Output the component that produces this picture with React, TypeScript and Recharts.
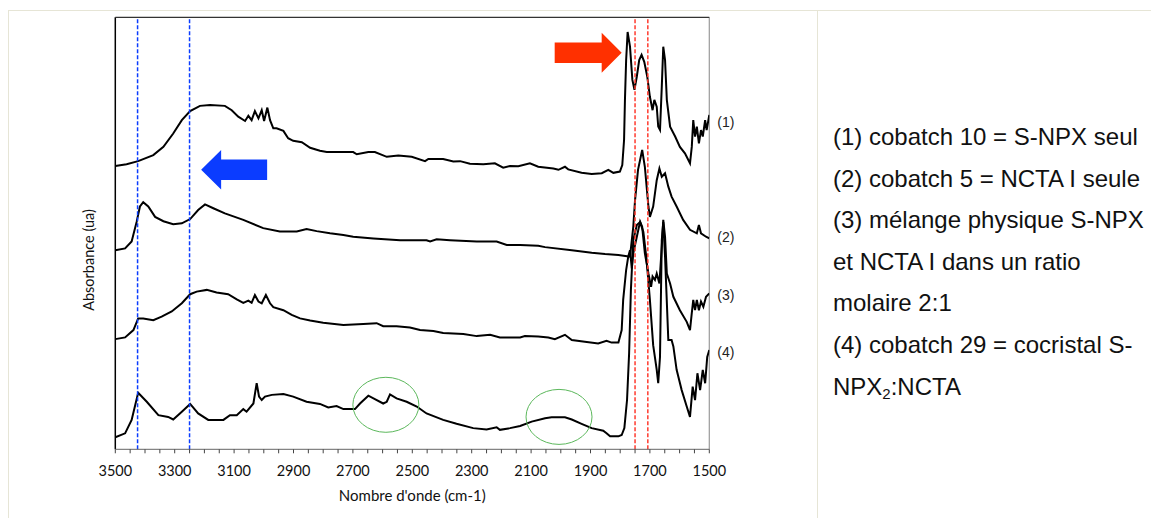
import React from 'react';
import { LineChart, Line, XAxis, YAxis, ReferenceLine, ReferenceDot } from 'recharts';

// wavenumber grid for the axis (every 50 cm-1), labels every 200
const waveTicks = Array.from({ length: 41 }, (_, i) => 3500 - i * 50);
const waveLabels = [3500, 3300, 3100, 2900, 2700, 2500, 2300, 2100, 1900, 1700, 1500];

// (1) cobatch 10 = S-NPX seul
const s1Wave = [3500, 3462, 3423, 3372, 3338, 3305, 3276, 3248, 3215, 3181, 3131, 3108, 3086, 3063, 3052, 3041, 3030, 3018, 3007, 2999, 2988, 2979, 2968, 2957, 2934, 2918, 2901, 2872, 2844, 2811, 2788, 2699, 2687, 2648, 2626, 2586, 2547, 2502, 2457, 2446, 2396, 2362, 2339, 2306, 2261, 2222, 2194, 2171, 2143, 2104, 2076, 2025, 2008, 1986, 1975, 1930, 1896, 1862, 1840, 1823, 1801, 1793, 1787, 1784, 1780, 1775, 1767, 1759, 1752, 1744, 1736, 1728, 1719, 1709, 1700, 1691, 1685, 1677, 1672, 1666, 1660, 1655, 1649, 1643, 1632, 1615, 1599, 1582, 1565, 1559, 1554, 1548, 1542, 1535, 1528, 1522, 1514, 1509, 1500];
const s1Abs = [65.6, 66.0, 66.7, 68.1, 70.0, 73.1, 76.2, 78.3, 79.5, 79.7, 79.5, 78.5, 77.0, 76.0, 77.2, 76.2, 78.3, 76.6, 78.5, 76.0, 79.1, 76.2, 74.3, 74.3, 73.7, 72.0, 71.4, 71.1, 69.8, 69.1, 68.8, 68.8, 68.3, 68.8, 68.8, 67.7, 68.0, 67.7, 66.7, 67.2, 67.2, 66.6, 66.7, 66.1, 66.0, 66.2, 65.2, 65.6, 65.5, 66.2, 65.4, 65.0, 64.7, 65.4, 64.8, 64.0, 63.7, 63.9, 64.7, 64.0, 64.3, 65.8, 71.6, 80.9, 90.1, 96.6, 93.2, 85.5, 83.2, 86.3, 90.1, 91.3, 89.7, 86.3, 81.6, 78.5, 80.9, 79.3, 74.7, 73.9, 83.9, 93.2, 90.1, 80.9, 74.7, 72.4, 70.0, 68.5, 66.2, 70.0, 76.2, 72.4, 74.7, 70.8, 73.9, 72.4, 76.2, 73.9, 77.4];

// (2) cobatch 5 = NCTA I seule
const s2Wave = [3500, 3467, 3445, 3428, 3417, 3406, 3389, 3366, 3338, 3305, 3276, 3248, 3221, 3198, 3170, 3131, 3069, 3002, 2946, 2889, 2856, 2822, 2777, 2732, 2699, 2631, 2541, 2452, 2440, 2418, 2373, 2283, 2216, 2182, 2137, 2076, 2053, 1963, 1896, 1851, 1806, 1777, 1767, 1756, 1750, 1740, 1726, 1717, 1705, 1700, 1689, 1677, 1668, 1660, 1649, 1638, 1627, 1610, 1588, 1565, 1542, 1535, 1528, 1511, 1500];
const s2Abs = [46.1, 46.5, 48.1, 52.7, 56.2, 57.2, 56.2, 53.8, 52.8, 52.1, 52.3, 53.3, 55.4, 56.7, 55.8, 54.6, 53.1, 51.2, 50.4, 50.4, 51.0, 50.5, 50.0, 49.6, 49.2, 48.8, 48.4, 48.4, 48.1, 48.6, 48.4, 48.1, 48.1, 47.3, 47.3, 47.1, 46.8, 46.1, 45.5, 45.2, 45.0, 44.7, 44.6, 51.5, 57.7, 64.7, 69.3, 65.4, 56.2, 53.8, 56.2, 62.3, 65.0, 63.1, 63.9, 60.8, 58.5, 56.2, 53.1, 50.8, 50.0, 51.9, 50.0, 49.2, 48.8];

// (3) mélange physique S-NPX / NCTA I 2:1
const s3Wave = [3500, 3467, 3439, 3423, 3406, 3372, 3344, 3310, 3276, 3248, 3226, 3192, 3159, 3120, 3091, 3069, 3052, 3041, 3030, 3018, 3007, 2993, 2979, 2968, 2934, 2906, 2878, 2844, 2800, 2732, 2665, 2620, 2598, 2553, 2508, 2474, 2429, 2396, 2328, 2283, 2238, 2205, 2137, 2121, 2076, 2042, 2020, 1986, 1963, 1919, 1874, 1846, 1829, 1806, 1795, 1790, 1780, 1773, 1767, 1761, 1756, 1744, 1733, 1726, 1717, 1705, 1696, 1691, 1683, 1677, 1668, 1660, 1655, 1649, 1643, 1632, 1621, 1599, 1576, 1565, 1559, 1554, 1548, 1542, 1535, 1528, 1520, 1511, 1500];
const s3Abs = [25.5, 25.9, 27.6, 30.3, 30.3, 29.9, 30.7, 31.9, 33.8, 35.9, 36.5, 36.9, 36.3, 35.9, 34.7, 33.9, 34.4, 33.9, 35.7, 34.2, 33.8, 35.7, 33.8, 32.9, 32.2, 31.1, 30.3, 29.8, 29.3, 28.8, 29.0, 29.2, 28.5, 28.5, 28.2, 27.6, 27.4, 26.9, 26.7, 26.2, 26.5, 25.9, 25.9, 26.2, 26.1, 25.9, 25.5, 26.5, 25.3, 24.9, 24.5, 25.1, 24.7, 24.7, 27.6, 34.6, 41.5, 44.6, 46.1, 41.9, 45.4, 49.2, 52.7, 51.5, 45.4, 40.7, 37.6, 40.0, 39.2, 40.7, 38.4, 46.9, 53.1, 49.2, 40.7, 38.4, 35.3, 32.2, 29.5, 27.6, 31.5, 34.6, 32.2, 34.6, 32.2, 34.2, 33.0, 35.3, 36.1];

// (4) cobatch 29 = cocristal S-NPX2:NCTA
const s4Wave = [3500, 3467, 3445, 3423, 3394, 3355, 3322, 3305, 3276, 3248, 3221, 3187, 3136, 3114, 3091, 3069, 3058, 3035, 3024, 3016, 3007, 2996, 2973, 2934, 2901, 2856, 2811, 2783, 2755, 2732, 2693, 2676, 2648, 2626, 2598, 2586, 2575, 2553, 2519, 2485, 2452, 2396, 2351, 2295, 2250, 2216, 2205, 2171, 2137, 2098, 2053, 2031, 1986, 1963, 1930, 1896, 1857, 1846, 1834, 1806, 1795, 1786, 1777, 1770, 1764, 1756, 1744, 1733, 1722, 1711, 1700, 1689, 1677, 1672, 1666, 1660, 1655, 1649, 1638, 1627, 1621, 1610, 1593, 1576, 1565, 1556, 1548, 1540, 1531, 1522, 1514, 1507, 1500];
const s4Abs = [2.8, 3.7, 6.8, 13.1, 11.0, 7.9, 7.5, 6.9, 8.7, 10.5, 8.3, 6.8, 6.8, 7.9, 7.9, 9.3, 8.7, 10.6, 15.3, 12.2, 11.4, 12.2, 12.6, 12.8, 12.2, 11.0, 10.5, 9.7, 10.0, 9.3, 9.3, 10.6, 12.4, 11.6, 10.6, 11.0, 12.7, 11.8, 11.0, 9.9, 8.3, 6.8, 5.9, 4.9, 4.6, 5.1, 4.5, 4.9, 5.4, 6.4, 7.2, 7.4, 7.4, 6.9, 5.9, 4.9, 4.3, 3.7, 3.0, 3.0, 3.3, 4.9, 11.4, 22.2, 36.9, 48.4, 51.9, 52.6, 50.3, 43.8, 34.6, 24.1, 18.4, 15.3, 21.4, 48.4, 52.6, 44.6, 25.3, 25.3, 23.8, 18.4, 13.7, 9.9, 7.5, 14.5, 11.4, 17.6, 13.7, 18.4, 15.3, 21.4, 23.0];

// annotations
const blueMarks = [3425, 3250];
const redMarks = [1750, 1707];
const curveTags = ['(1)', '(2)', '(3)', '(4)'];
const tagAbs = [75.7, 49.2, 35.7, 22.6];
const redArrowTip = { w: 1795, a: 91.8 };
const blueArrowTip = { w: 3211, a: 64.7 };
const circleCentres = [{ w: 2589, a: 10.3 }, { w: 2006, a: 7.5 }];

const legendLines = [
  '(1) cobatch 10 = S-NPX seul',
  '(2) cobatch 5 = NCTA I seule',
  '(3) mélange physique S-NPX',
  'et NCTA I dans un ratio',
  'molaire 2:1',
  '(4) cobatch 29 = cocristal S-',
];

const zip = (w: number[], a: number[]) => w.map((x, i) => ({ w: x, a: a[i] }));
const spectra = [zip(s1Wave, s1Abs), zip(s2Wave, s2Abs), zip(s3Wave, s3Abs), zip(s4Wave, s4Abs)];

const axisFont = 'Gill Sans, "Gill Sans MT", Lato, sans-serif';
const textFont = '"Liberation Sans", Arial, sans-serif';
const frameColor = '#e6e5d6';

const WaveTick = (props: any) => {
  const { x, y, payload } = props;
  if (!waveLabels.includes(payload.value)) return null;
  return (
    <text x={x} y={y + 21} textAnchor="middle" fontFamily={axisFont} fontSize={14.5} fill="#111">
      {payload.value}
    </text>
  );
};

const RightArrow = ({ cx, cy }: any) => (
  <polygon
    points={`${cx},${cy} ${cx - 20},${cy - 20} ${cx - 20},${cy - 10.3} ${cx - 67},${cy - 10.3} ${cx - 67},${cy + 10.3} ${cx - 20},${cy + 10.3} ${cx - 20},${cy + 20}`}
    fill="#ff3000"
  />
);

const LeftArrow = ({ cx, cy }: any) => (
  <polygon
    points={`${cx},${cy} ${cx + 20},${cy - 19.7} ${cx + 20},${cy - 10.2} ${cx + 66},${cy - 10.2} ${cx + 66},${cy + 10.2} ${cx + 20},${cy + 10.2} ${cx + 20},${cy + 19.7}`}
    fill="#0b3cff"
  />
);

const Ring = ({ cx, cy }: any) => (
  <ellipse cx={cx} cy={cy} rx={33} ry={27.5} fill="none" stroke="#5cb85c" strokeWidth={1} />
);

const tagShape = (label: string) => ({ cx, cy }: any) => (
  <text x={cx + 8} y={cy + 5} fontFamily={textFont} fontSize={14} fill="#222">
    {label}
  </text>
);

export default function App() {
  return (
    <div style={{ position: 'relative', width: 1151, height: 512 }}>
      <style>{'html,body{overflow:hidden}'}</style>
      <div style={{ position: 'absolute', left: 0, top: 2, width: 1149, height: 520, border: `1px solid ${frameColor}` }} />
      <div style={{ position: 'absolute', left: 809, top: 2, width: 1, height: 520, background: frameColor }} />

      <div style={{ position: 'absolute', left: 0, top: 0 }}>
        <LineChart width={800} height={505} margin={{ top: 9.3, right: 98.7, left: 107.3, bottom: 33.7 }}>
          <XAxis
            dataKey="w"
            type="number"
            domain={[1500, 3500]}
            reversed
            ticks={waveTicks}
            interval={0}
            allowDataOverflow
            height={30}
            tick={<WaveTick />}
            tickSize={4}
            tickLine={{ stroke: '#444' }}
            axisLine={{ stroke: '#666' }}
            label={{ value: "Nombre d'onde (cm-1)", position: 'bottom', offset: 11, fontFamily: axisFont, fontSize: 15, fill: '#111' }}
          />
          <YAxis type="number" domain={[0, 100]} hide />
          <ReferenceLine x={3500} stroke="#000" strokeWidth={1.5} />
          <ReferenceLine x={1500} stroke="#9a9a9a" strokeWidth={1.2} />
          <ReferenceLine y={100} stroke="#333" strokeWidth={1.2} />

          {spectra.map((d, i) => (
            <Line
              key={i}
              data={d}
              dataKey="a"
              type="linear"
              stroke="#000"
              strokeWidth={2}
              dot={false}
              activeDot={false}
              isAnimationActive={false}
            />
          ))}

          {blueMarks.map((w) => (
            <ReferenceLine key={w} x={w} stroke="#0a3cff" strokeWidth={1.5} strokeDasharray="4 2" />
          ))}
          {redMarks.map((w) => (
            <ReferenceLine key={w} x={w} stroke="#ff3b2f" strokeWidth={1.5} strokeDasharray="4 2" />
          ))}

          <ReferenceDot x={redArrowTip.w} y={redArrowTip.a} shape={RightArrow} />
          <ReferenceDot x={blueArrowTip.w} y={blueArrowTip.a} shape={LeftArrow} />
          {circleCentres.map((c) => (
            <ReferenceDot key={c.w} x={c.w} y={c.a} shape={Ring} />
          ))}
          {curveTags.map((t, i) => (
            <ReferenceDot key={t} x={1500} y={tagAbs[i]} shape={tagShape(t)} />
          ))}
        </LineChart>
      </div>

      <div
        style={{
          position: 'absolute',
          left: 80,
          top: 252,
          transform: 'translate(-50%, -50%) rotate(-90deg)',
          fontFamily: axisFont,
          fontSize: 14.5,
          color: '#111',
          whiteSpace: 'nowrap',
        }}
      >
        Absorbance (ua)
      </div>

      <div
        style={{
          position: 'absolute',
          left: 825,
          top: 108,
          fontFamily: textFont,
          fontSize: 24,
          lineHeight: '41.6px',
          color: '#111',
          whiteSpace: 'nowrap',
        }}
      >
        {legendLines.map((l) => (
          <div key={l}>{l}</div>
        ))}
        <div>
          NPX<sub style={{ fontSize: 15, verticalAlign: -4, lineHeight: 0 }}>2</sub>:NCTA
        </div>
      </div>
    </div>
  );
}
